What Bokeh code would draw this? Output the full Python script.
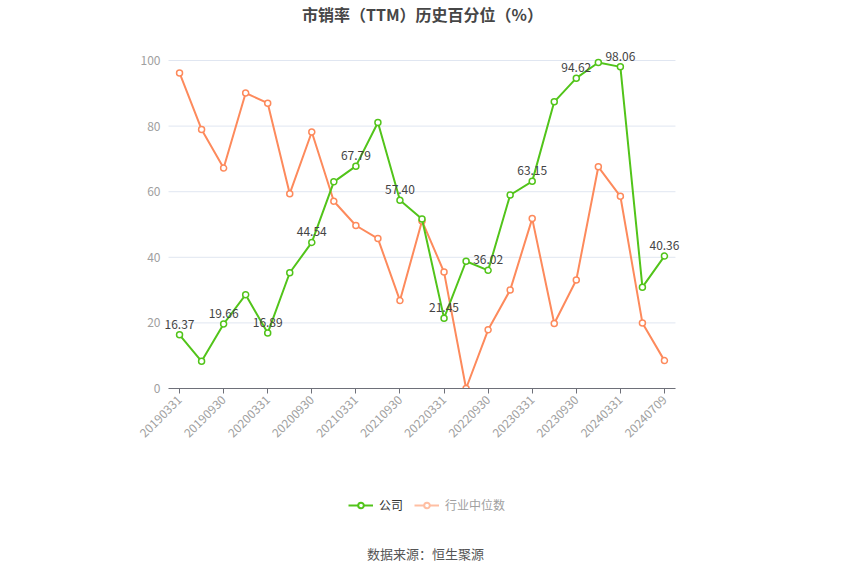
import math
from bokeh.plotting import figure
from bokeh.layouts import column
from bokeh.models import (ColumnDataSource, FixedTicker, Label, Legend, LegendItem,
                          Range1d, LabelSet)
from bokeh.core.properties import value
from bokeh.embed import file_html
from bokeh.resources import INLINE

dates = ["20190331", "20190630", "20190930", "20191231", "20200331", "20200630",
         "20200930", "20201231", "20210331", "20210630", "20210930", "20211231",
         "20220331", "20220630", "20220930", "20221231", "20230331", "20230630",
         "20230930", "20231231", "20240331", "20240630", "20240709"]
company = [16.37, 8.3, 19.66, 28.6, 16.89, 35.3, 44.54, 63.0, 67.79, 81.1, 57.40, 51.7,
           21.45, 38.8, 36.02, 59.0, 63.15, 87.4, 94.62, 99.4, 98.06, 30.9, 40.36]
industry = [96.2, 79.0, 67.2, 90.1, 87.0, 59.4, 78.2, 57.1, 49.7, 45.7, 26.8, 51.1,
            35.5, 0.0, 17.9, 30.0, 51.8, 19.8, 33.1, 67.6, 58.6, 20.0, 8.5]
y_ticks = [0, 20, 40, 60, 80, 100]

GREEN = "#52c41a"
ORANGE = "#fd8a5c"
FONT = "Noto Sans CJK SC"
W = 834
BL, BR = 157, 148
FX0, FX1 = BL, W - BR

xs = list(range(len(dates)))
n = len(dates)


def strip(height):
    f = figure(width=W, height=height, output_backend="svg", toolbar_location=None,
               x_range=Range1d(FX0, FX1), y_range=Range1d(0, height),
               x_axis_location=None, y_axis_location=None,
               min_border_left=BL, min_border_right=BR,
               min_border_top=0, min_border_bottom=0)
    f.outline_line_color = None
    f.grid.visible = False
    f.background_fill_color = "white"
    f.border_fill_color = "white"
    return f


# top strip: title
p0 = strip(40)
p0.add_layout(Label(x=422, y=27, text="市销率（TTM）历史百分位（%）", text_align="center",
                    text_baseline="middle", text_font=FONT, text_font_size="16px",
                    text_font_style="bold", text_color="#464646"))

# main chart
p = figure(width=W, height=430, output_backend="svg", toolbar_location=None,
           x_range=Range1d(-1.0, n), y_range=Range1d(0, 106.1),
           min_border_left=BL, min_border_right=BR, min_border_top=0,
           min_border_bottom=82)
p.outline_line_color = None
p.background_fill_color = "white"
p.border_fill_color = "white"
p.grid.visible = False

# horizontal grid lines limited to the category span
grid_src = ColumnDataSource(dict(y=y_ticks, x0=[-0.5] * len(y_ticks),
                                 x1=[n - 0.5] * len(y_ticks)))
p.segment(x0="x0", x1="x1", y0="y", y1="y", source=grid_src,
          line_color="#e0e6f1", line_width=1, level="underlay")

p.xaxis.ticker = FixedTicker(ticks=xs[::2])
p.xaxis.bounds = (-0.5, n - 0.5)
p.xaxis.major_label_overrides = {i: d for i, d in enumerate(dates)}
p.xaxis.major_label_orientation = math.pi / 4
p.xaxis.major_label_text_font = FONT
p.xaxis.major_label_text_font_size = "12px"
p.xaxis.major_label_text_color = "#a0a0a0"
p.xaxis.axis_line_color = "#6e7079"
p.xaxis.major_tick_line_color = "#6e7079"
p.xaxis.major_tick_in = 0
p.xaxis.major_tick_out = 5
p.xaxis.minor_tick_line_color = None
p.xaxis.major_label_standoff = 4

p.yaxis.ticker = FixedTicker(ticks=y_ticks)
p.yaxis.axis_line_color = None
p.yaxis.major_tick_line_color = None
p.yaxis.minor_tick_line_color = None
p.yaxis.major_tick_in = 0
p.yaxis.major_tick_out = 0
p.yaxis.major_label_text_font = FONT
p.yaxis.major_label_text_font_size = "12px"
p.yaxis.major_label_text_color = "#a0a0a0"
p.yaxis.major_label_standoff = -3

src = ColumnDataSource(dict(x=xs, company=company, industry=industry))

p.line("x", "industry", source=src, line_color=ORANGE, line_width=2)
p.scatter("x", "industry", source=src, size=6, marker="circle", line_color=ORANGE,
          fill_color="white", line_width=1.5)
p.line("x", "company", source=src, line_color=GREEN, line_width=2)
p.scatter("x", "company", source=src, size=6, marker="circle", line_color=GREEN,
          fill_color="white", line_width=1.5)

lab_src = ColumnDataSource(dict(
    x=xs[::2], y=company[::2], t=["%.2f" % v for v in company[::2]]))
p.add_layout(LabelSet(x="x", y="y", text="t", source=lab_src, text_align="center",
                      text_baseline="bottom", y_offset=6, text_font=value(FONT),
                      text_font_size="12px", text_color="#444444"))

# bottom strip: legend + source
p2 = strip(105)
nan = float("nan")
dummy = ColumnDataSource(dict(x=[nan], y=[nan]))
gl = p2.line("x", "y", source=dummy, line_color=GREEN, line_width=2)
gs = p2.scatter("x", "y", source=dummy, size=12, line_color=GREEN, fill_color="white",
                line_width=2)
ol = p2.line("x", "y", source=dummy, line_color="#ffbfa3", line_width=2)
os_ = p2.scatter("x", "y", source=dummy, size=12, line_color="#ffbfa3",
                 fill_color="white", line_width=2)


def make_legend(label, rends, loc, color):
    return Legend(items=[LegendItem(label=label, renderers=rends)], location=loc,
                  orientation="horizontal", padding=0, margin=0, spacing=0,
                  border_line_color=None, background_fill_alpha=0,
                  glyph_width=25, glyph_height=14, label_standoff=6,
                  label_text_font=FONT, label_text_font_size="12px",
                  label_text_color=color, label_height=14)


p2.add_layout(make_legend("公司", [gl, gs], (348 - FX0, 62), "#333333"))
p2.add_layout(make_legend("行业中位数", [ol, os_], (414 - FX0, 62), "#a0a0a0"))

p2.add_layout(Label(x=425, y=22, text="数据来源：恒生聚源", text_align="center",
                    text_baseline="middle", text_font=FONT, text_font_size="13px",
                    text_color="#555555"))

layout = column(p0, p, p2, spacing=0)
open("out.html", "w").write(file_html(layout, INLINE))
